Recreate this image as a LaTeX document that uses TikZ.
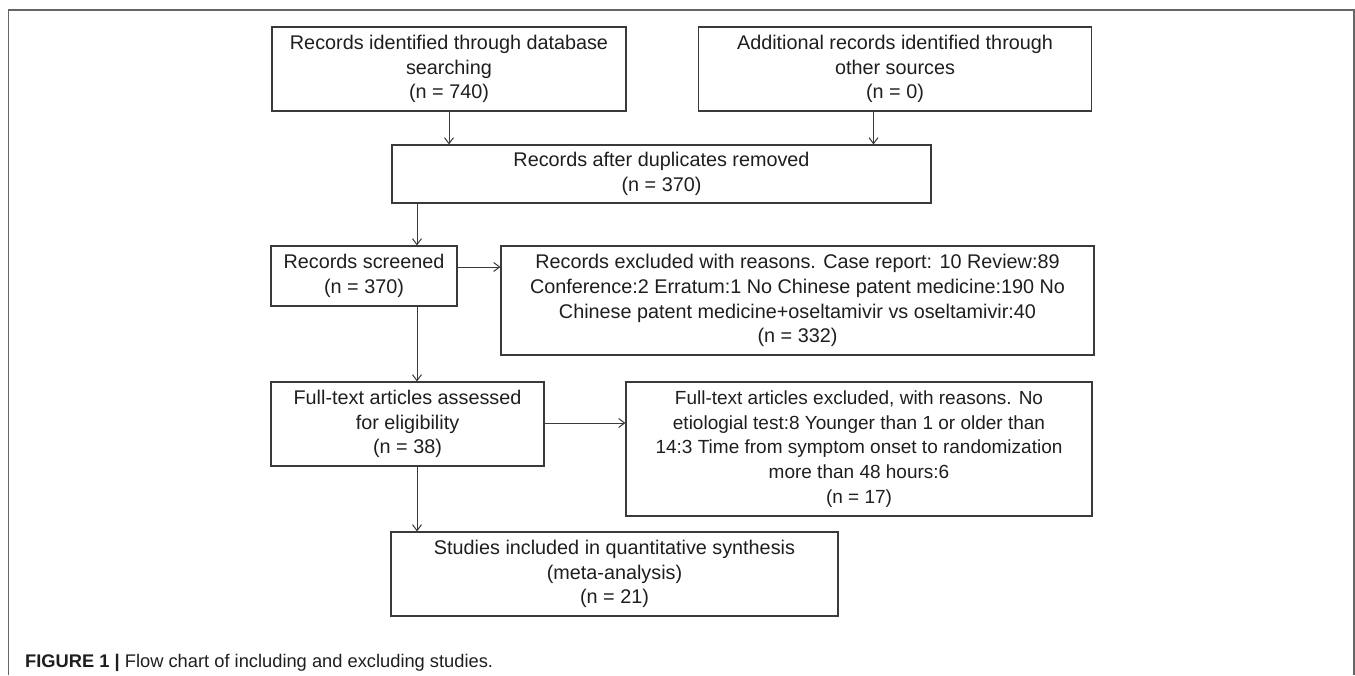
\documentclass[tikz,border=0pt]{standalone}
\usepackage{fontspec}
\setmainfont{Liberation Sans}
\usetikzlibrary{arrows.meta}
\definecolor{boxline}{HTML}{3A3A3A}
\definecolor{frameline}{HTML}{666666}
\definecolor{txt}{HTML}{1E1E1E}
\tikzset{
  flowbox/.style={draw=boxline, line width=1.1pt, inner sep=0pt, align=center,
    text=txt, font=\fontsize{19.8pt}{24.8pt}\selectfont},
  arr/.style={draw=boxline, line width=1pt, -{Straight Barb[length=6pt,width=9pt]}},
}
\begin{document}
\begin{tikzpicture}[x=1pt,y=-1pt]
\useasboundingbox (0,0) rectangle (1355,675);
\draw[frameline, line width=1.5pt] (8.5,675) -- (8.5,10) -- (1354,10) -- (1354,675);

\node[flowbox, minimum width=354pt, minimum height=84pt] (b1) at (449,69)
  {Records identified through database\\searching\\(n = 740)};
\node[flowbox, minimum width=393pt, minimum height=84pt] (b2) at (895,69)
  {Additional records identified through\\other sources\\(n = 0)};
\node[flowbox, minimum width=539pt, minimum height=58pt] (b3) at (661.5,174)
  {Records after duplicates removed\\(n = 370)};
\node[flowbox, minimum width=186pt, minimum height=60pt] (b4) at (364,276)
  {Records screened\\(n = 370)};
\node[flowbox, minimum width=593pt, minimum height=109pt] (b5) at (797.5,300.5)
  {Records excluded with reasons. Case report: 10 Review:89\\Conference:2 Erratum:1 No Chinese patent medicine:190 No\\Chinese patent medicine+oseltamivir vs oseltamivir:40\\(n = 332)};
\node[flowbox, minimum width=273pt, minimum height=84pt] (b6) at (407.5,424)
  {Full-text articles assessed\\for eligibility\\(n = 38)};
\node[flowbox, minimum width=466pt, minimum height=134pt, font=\fontsize{19pt}{24.8pt}\selectfont] (b7) at (859,449)
  {Full-text articles excluded, with reasons. No\\etiologial test:8 Younger than 1 or older than\\14:3 Time from symptom onset to randomization\\more than 48 hours:6\\(n = 17)};
\node[flowbox, minimum width=447pt, minimum height=84pt] (b8) at (614.5,574)
  {Studies included in quantitative synthesis\\(meta-analysis)\\(n = 21)};

\coordinate (a2) at (873.5,111);
\coordinate (trunk) at (417,0);
\coordinate (r1) at (0,267);
\coordinate (r2) at (0,423);

\draw[arr] (b1.south) -- (b1.south |- b3.north);
\draw[arr] (a2) -- (a2 |- b3.north);
\draw[arr] (b3.south -| trunk) -- (b4.north -| trunk);
\draw[arr] (b4.south -| trunk) -- (b6.north -| trunk);
\draw[arr] (b6.south -| trunk) -- (b8.north -| trunk);
\draw[arr] (b4.east |- r1) -- (b5.west |- r1);
\draw[arr] (b6.east |- r2) -- (b7.west |- r2);

\node[anchor=base west, inner sep=0pt, text=txt, font=\fontsize{18.3pt}{20pt}\selectfont] (cap) at (25,667)
  {\textbf{FIGURE 1 |} Flow chart of including and excluding studies.};
\end{tikzpicture}
\end{document}
